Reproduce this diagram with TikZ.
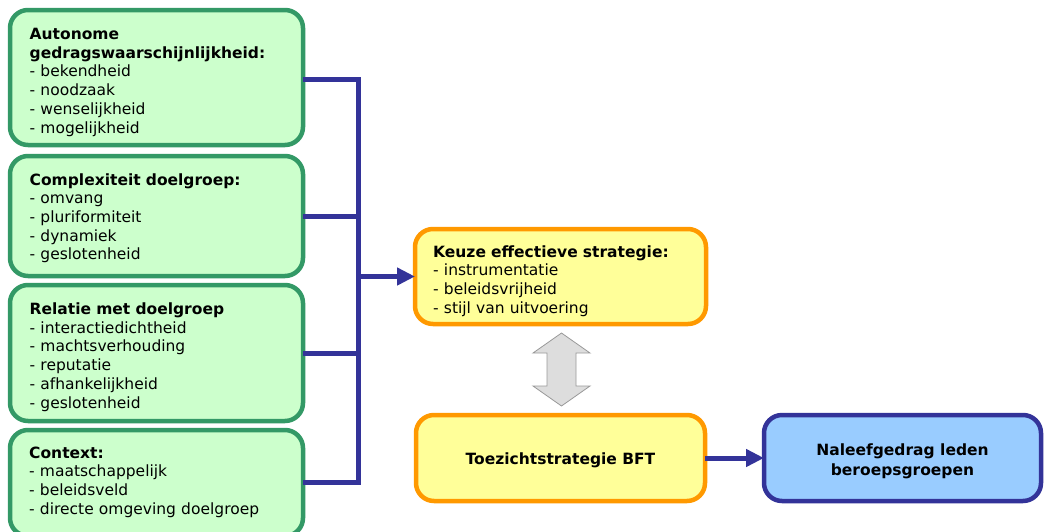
\documentclass[tikz,border=0pt]{standalone}
\usepackage{fontspec}
\setmainfont{DejaVu Sans}
\usetikzlibrary{arrows.meta}

\definecolor{greenfill}{HTML}{CCFFCC}
\definecolor{greenline}{HTML}{339966}
\definecolor{yellowfill}{HTML}{FFFF99}
\definecolor{orangeline}{HTML}{FF9900}
\definecolor{bluefill}{HTML}{99CCFF}
\definecolor{navy}{HTML}{333399}
\definecolor{greyfill}{HTML}{DDDDDD}
\definecolor{greyline}{HTML}{999999}

\tikzset{
  box/.style={rectangle, rounded corners=18pt, line width=4.5pt,
    inner sep=0pt, outer sep=0pt},
  factor/.style={box, draw=greenline, fill=greenfill},
  strategy/.style={box, draw=orangeline, fill=yellowfill},
  result/.style={box, draw=navy, fill=bluefill},
  listtext/.style={anchor=base west, inner sep=0pt, align=left, text width=262pt,
    font=\fontsize{15.5pt}{18.7pt}\selectfont},
  titletext/.style={inner sep=0pt, align=center,
    font=\fontsize{15.5pt}{20pt}\selectfont\bfseries},
  conn/.style={draw=navy, line width=5pt, line join=miter},
  connarrow/.style={conn, -{Triangle[length=18pt,width=17pt]}},
  swap/.style={draw=greyline, fill=greyfill, line width=0.8pt, line join=miter}
}

\begin{document}
\begin{tikzpicture}[x=1pt, y=-1pt]
\useasboundingbox (0,0) rectangle (1047,531);

% influencing factors
\node[factor, minimum width=293pt, minimum height=135pt] (b1) at (156.5,77.5) {};
\node[factor, minimum width=293pt, minimum height=120pt] (b2) at (156.5,216) {};
\node[factor, minimum width=293pt, minimum height=136pt] (b3) at (156.5,353) {};
\node[factor, minimum width=293pt, minimum height=106pt] (b4) at (156.5,483) {};

\node[listtext] (t1) at ([xshift=19.5pt]b1.west |- 0,39.5)
  {\textbf{Autonome}\\\textbf{gedragswaarschijnlijkheid:}\\- bekendheid\\- noodzaak\\- wenselijkheid\\- mogelijkheid};
\node[listtext] (t2) at ([xshift=19.5pt]b2.west |- 0,185)
  {\textbf{Complexiteit doelgroep:}\\- omvang\\- pluriformiteit\\- dynamiek\\- geslotenheid};
\node[listtext] (t3) at ([xshift=19.5pt]b3.west |- 0,314.5)
  {\textbf{Relatie met doelgroep}\\- interactiedichtheid\\- machtsverhouding\\- reputatie\\- afhankelijkheid\\- geslotenheid};
\node[listtext] (t4) at ([xshift=19pt]b4.west |- 0,458)
  {\textbf{Context:}\\- maatschappelijk\\- beleidsveld\\- directe omgeving doelgroep};

% strategy and outcome
\node[strategy, minimum width=291pt, minimum height=95pt] (keuze) at (560.5,276.5) {};
\node[listtext] (tk) at ([xshift=18pt]keuze.west |- 0,257)
  {\textbf{Keuze effectieve strategie:}\\- instrumentatie\\- beleidsvrijheid\\- stijl van uitvoering};

\node[strategy, minimum width=289pt, minimum height=86pt] (toez) at (560.5,458) {};
\node[titletext] (tt) at ([yshift=-2.5pt]toez.center) {Toezichtstrategie BFT};

\node[result, minimum width=277pt, minimum height=86pt] (naleef) at (902.5,458) {};
\node[titletext] (tn) at ([yshift=-3pt]naleef.center) {Naleefgedrag leden\\beroepsgroepen};

% collecting bus
\coordinate (bus) at (358,0);
\draw[conn] ([yshift=-2pt]b1.east) -- ([yshift=-2pt]b1.east -| bus) -- ([yshift=1pt]b4.east -| bus) -- ([yshift=1pt]b4.east);
\draw[conn] (b2.east) -- (b2.east -| bus);
\draw[conn] (b3.east) -- (b3.east -| bus);
\draw[connarrow] (keuze.west -| bus) -- (keuze.west);
\draw[connarrow] (toez.east) -- (naleef.west);

% two-way arrow between strategy boxes
\coordinate (mid) at (561.5,369.5);
\draw[swap] ([xshift=-14.5pt,yshift=-16.5pt]mid) -- ([xshift=-28.5pt,yshift=-16.5pt]mid)
  -- ([yshift=-36.5pt]mid) -- ([xshift=28.5pt,yshift=-16.5pt]mid)
  -- ([xshift=14.5pt,yshift=-16.5pt]mid) -- ([xshift=14.5pt,yshift=16.5pt]mid)
  -- ([xshift=28.5pt,yshift=16.5pt]mid) -- ([yshift=36.5pt]mid)
  -- ([xshift=-28.5pt,yshift=16.5pt]mid) -- ([xshift=-14.5pt,yshift=16.5pt]mid) -- cycle;
\end{tikzpicture}
\end{document}
